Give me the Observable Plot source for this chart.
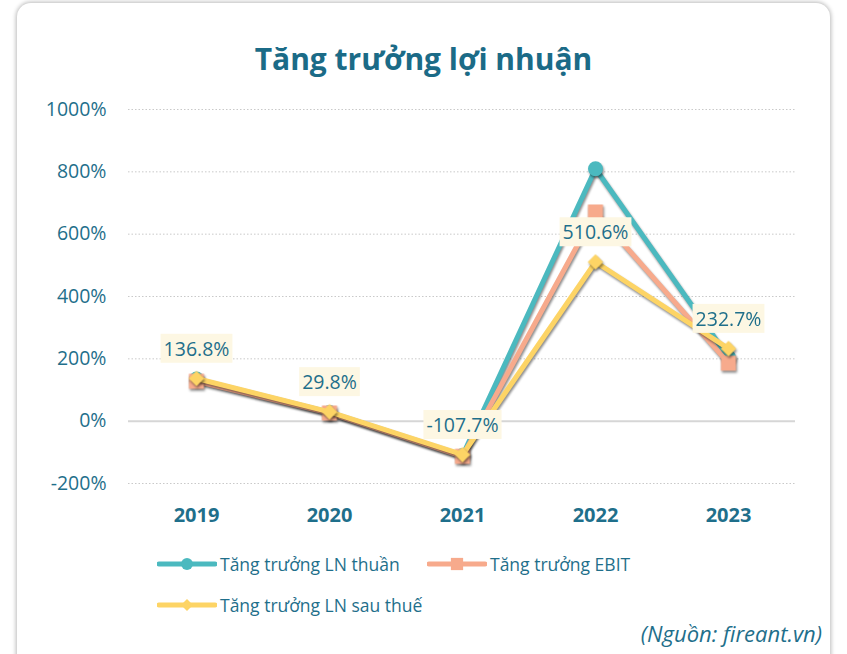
<!DOCTYPE html>
<html>
<head>
<meta charset="utf-8">
<script src="https://cdn.jsdelivr.net/npm/d3@7"></script>
<script src="https://cdn.jsdelivr.net/npm/@observablehq/plot@0.6"></script>
<style>
  html, body { margin: 0; padding: 0; background: #ffffff; }
  body { width: 847px; height: 654px; position: relative; overflow: hidden; font-family: "Open Sans", sans-serif; }
  #card { position: absolute; left: 17px; top: 3px; width: 813px; height: 720px; background: #fff;
          border-radius: 14px; box-shadow: 0 0 4px 1px rgba(0,0,0,0.28); }
  #title { position: absolute; left: 0; width: 847px; top: 38px; text-align: center; font-size: 30px; font-weight: 700; color: #1b6b87; }
  #chart { position: absolute; left: 0; top: 0; }
  #chart svg g[aria-label="line"], #chart svg g[aria-label="dot"] { filter: drop-shadow(1.5px 2px 1px rgba(0,0,0,0.45)); }
  #chart svg g[aria-label="x-axis tick label"] { font-weight: 700; font-size: 20px; }
  .legend-item { position: absolute; display: flex; align-items: center; font-size: 17.5px; color: #1f6f8b; }
  .legend-item svg { margin-right: 3px; }
  #source { position: absolute; right: 25px; top: 618px; font-size: 22px; font-style: italic; color: #1f6f8b; }
</style>
</head>
<body>
<div id="card"></div>
<div id="title">Tăng trưởng lợi nhuận</div>
<div id="chart"></div>
<div id="legend"></div>
<div id="source">(Nguồn: fireant.vn)</div>
<script>
const years = ["2019", "2020", "2021", "2022", "2023"];
const lnThuan = [135, 28, -110, 810, 205];
const ebit = [128, 26, -113, 671, 186];
const lnSauThue = [136.8, 29.8, -107.7, 510.6, 232.7];
const yTicks = [-200, 0, 200, 400, 600, 800, 1000];
const seriesNames = ["Tăng trưởng LN thuần", "Tăng trưởng EBIT", "Tăng trưởng LN sau thuế"];
const seriesColors = ["#4bb9bf", "#f7aa8c", "#fdd465"];
const seriesSymbols = ["circle", "square", "diamond2"];
const seriesR = [7.5, 8.5, 7];

const seriesValues = [lnThuan, ebit, lnSauThue];
const tables = seriesValues.map((vals, i) => years.map((y, j) => ({year: y, value: vals[j], series: seriesNames[i]})));

const marks = [
  Plot.ruleY(yTicks.filter(d => d !== 0), {stroke: "#c9c9c9", strokeWidth: 1, strokeDasharray: "1.5,2"}),
  Plot.ruleY([0], {stroke: "#d6d6d6", strokeWidth: 2}),
  Plot.axisY({ticks: yTicks, tickSize: 0, tickPadding: 22, tickFormat: d => d + "%", fontSize: 19.5}),
  Plot.axisX({tickSize: 0, tickPadding: 24, fontSize: 20})
];
tables.forEach((t, i) => {
  marks.push(Plot.line(t, {x: "year", y: "value", stroke: seriesColors[i], strokeWidth: 5, strokeLinejoin: "round"}));
  marks.push(Plot.dot(t, {x: "year", y: "value", fill: seriesColors[i], symbol: seriesSymbols[i], r: seriesR[i], stroke: "none"}));
});
marks.push(Plot.text(tables[2], {x: "year", y: "value", text: d => d3.format(".1f")(d.value).replace("\u2212", "-") + "%", dy: -29, fontSize: 19.5, fill: "#1f6f8b"}));

const svg = Plot.plot({
  width: 847,
  height: 540,
  marginLeft: 128,
  marginRight: 52,
  marginTop: 109,
  marginBottom: 57,
  style: {fontFamily: "Open Sans", color: "#1f6f8b", background: "transparent", overflow: "visible"},
  x: {type: "point", domain: years, padding: 0.5, label: null},
  y: {domain: [-200, 1000], label: null},
  marks
});
document.getElementById("chart").appendChild(svg);

// label backgrounds
const tg = svg.querySelector('g[aria-label="text"]');
if (tg) {
  tg.querySelectorAll("text").forEach(t => {
    const b = t.getBBox();
    const r = document.createElementNS("http://www.w3.org/2000/svg", "rect");
    r.setAttribute("x", b.x - 3);
    r.setAttribute("y", b.y - 1);
    r.setAttribute("width", b.width + 6);
    r.setAttribute("height", b.height + 2);
    r.setAttribute("fill", "#fdf7e3");
    if (t.getAttribute("transform")) r.setAttribute("transform", t.getAttribute("transform"));
    tg.insertBefore(r, t);
  });
}

// legend
const legendPos = [[157, 552], [427, 552], [157, 593]];
const legend = document.getElementById("legend");
seriesNames.forEach((name, i) => {
  const item = document.createElement("div");
  item.className = "legend-item";
  item.style.left = legendPos[i][0] + "px";
  item.style.top = legendPos[i][1] + "px";
  const sym = d3.symbol(i === 0 ? d3.symbolCircle : i === 1 ? d3.symbolSquare : d3.symbolDiamond2, i === 0 ? 110 : i === 1 ? 150 : 90)();
  item.innerHTML = `<svg width="60" height="24"><line x1="2" x2="58" y1="12" y2="12" stroke="${seriesColors[i]}" stroke-width="5" stroke-linecap="round"/><path d="${sym}" transform="translate(30,12)" fill="${seriesColors[i]}"/></svg><span>${name}</span>`;
  legend.appendChild(item);
});
</script>
</body>
</html>
